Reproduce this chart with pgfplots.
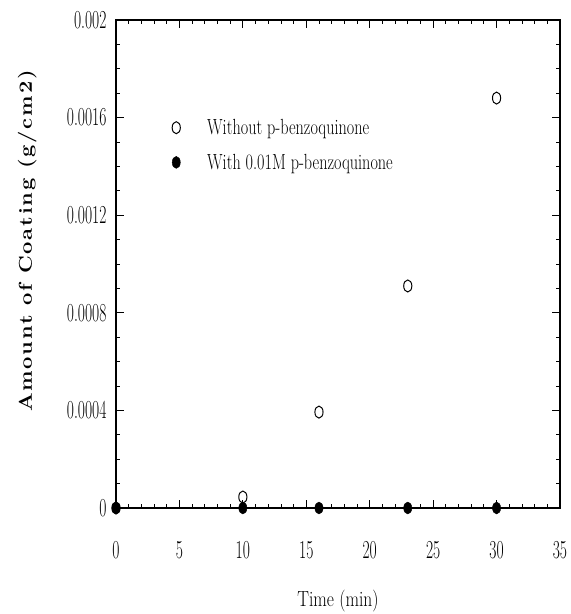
\documentclass[border=0pt]{standalone}
\usepackage{fontspec}
\usepackage{pgfplots}
\pgfplotsset{compat=1.18}
\newfontfamily\ylabfont[LetterSpace=8]{Latin Modern Roman}

\newcommand{\condt}[1]{\scalebox{0.6}[1]{#1}}
\newcommand{\condl}[1]{\scalebox{0.74}[1]{#1}}

\begin{document}
\begin{tikzpicture}
\useasboundingbox (-116bp,-106bp) rectangle (455bp,508bp);
\begin{axis}[
  at={(0,0)}, anchor=south west,
  width=444bp, height=488bp, scale only axis,
  xmin=0, xmax=35, ymin=0, ymax=0.002,
  xtick={0,5,...,35},
  ytick={0,0.0004,0.0008,0.0012,0.0016,0.002},
  minor x tick num=4,
  minor y tick num=3,
  scaled y ticks=false,
  yticklabel={\condt{\pgfmathprintnumber[assume math mode=true,fixed,precision=4]{\tick}}},
  xticklabel={\condt{\pgfmathprintnumber[assume math mode=true]{\tick}}},
  tick label style={font=\fontsize{26}{28}\selectfont},
  xticklabel style={yshift=-30bp},
  yticklabel style={xshift=-6bp},
  major tick length=8bp, minor tick length=4bp,
  tick style={black, line width=0.8pt},
  axis line style={line width=1.5pt},
  xlabel={\scalebox{0.8}[1]{Time (min)}},
  xlabel style={font=\fontsize{22}{24}\selectfont, yshift=-24bp},
  ylabel={\scalebox{1}[0.85]{Amount of Coating (g/cm2)}},
  ylabel style={font=\ylabfont\bfseries\fontsize{22}{24}\selectfont,
    at={(axis description cs:-0.20,0.547)}, anchor=center},
  clip=false,
  legend style={draw=none, fill=none, at={(0.115,0.805)}, anchor=north west,
    font=\fontsize{22}{24}\selectfont, row sep=14bp},
  legend cell align=left,
  legend image code/.code={%
    \path[draw=none,fill=none] (0bp,-0.1bp) rectangle (35bp,0.1bp);
    \draw[#1] plot[only marks] coordinates {(6bp,0bp)};},
]
\addplot[black, only marks, mark=o, mark size=6bp, mark options={xscale=0.68, line width=1pt}]
  coordinates {(0,0) (10,0.000045) (16,0.000393) (23,0.00091) (30,0.00168)};
\addlegendentry{\condl{Without p-benzoquinone}}
\addplot[black, only marks, mark=*, mark size=6bp, mark options={xscale=0.68}]
  coordinates {(0,0) (10,0) (16,0) (23,0) (30,0)};
\addlegendentry{\condl{With 0.01M p-benzoquinone}}
\end{axis}
\end{tikzpicture}
\end{document}
